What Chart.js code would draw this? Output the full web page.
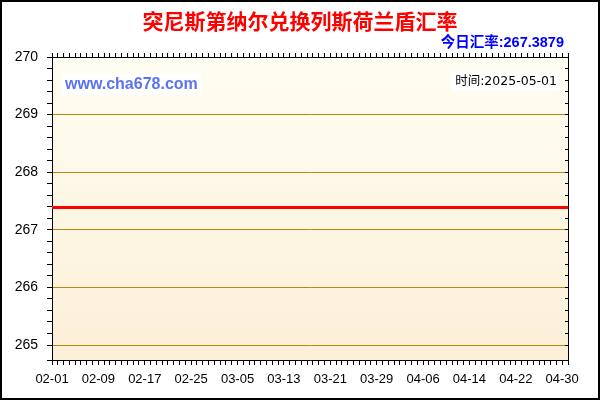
<!DOCTYPE html>
<html>
<head>
<meta charset="utf-8">
<script src="https://cdn.jsdelivr.net/npm/chart.js@4.4.1/dist/chart.umd.min.js"></script>
<style>
  html, body { margin: 0; padding: 0; background: #fff; }
  canvas { display: block; }
</style>
</head>
<body>
<canvas id="rateChart" width="600" height="400"></canvas>
<script>
// daily dates, 2025-02-01 .. 2025-05-01
const dayLabels = [
  '02-01','02-02','02-03','02-04','02-05','02-06','02-07','02-08','02-09','02-10',
  '02-11','02-12','02-13','02-14','02-15','02-16','02-17','02-18','02-19','02-20',
  '02-21','02-22','02-23','02-24','02-25','02-26','02-27','02-28',
  '03-01','03-02','03-03','03-04','03-05','03-06','03-07','03-08','03-09','03-10',
  '03-11','03-12','03-13','03-14','03-15','03-16','03-17','03-18','03-19','03-20',
  '03-21','03-22','03-23','03-24','03-25','03-26','03-27','03-28','03-29','03-30','03-31',
  '04-01','04-02','04-03','04-04','04-05','04-06','04-07','04-08','04-09','04-10',
  '04-11','04-12','04-13','04-14','04-15','04-16','04-17','04-18','04-19','04-20',
  '04-21','04-22','04-23','04-24','04-25','04-26','04-27','04-28','04-29','04-30',
  '05-01'
];

// TND -> ANG rate, flat over the whole period
const rates = [
  267.3879, 267.3879, 267.3879, 267.3879, 267.3879, 267.3879, 267.3879, 267.3879, 267.3879, 267.3879,
  267.3879, 267.3879, 267.3879, 267.3879, 267.3879, 267.3879, 267.3879, 267.3879, 267.3879, 267.3879,
  267.3879, 267.3879, 267.3879, 267.3879, 267.3879, 267.3879, 267.3879, 267.3879,
  267.3879, 267.3879, 267.3879, 267.3879, 267.3879, 267.3879, 267.3879, 267.3879, 267.3879, 267.3879,
  267.3879, 267.3879, 267.3879, 267.3879, 267.3879, 267.3879, 267.3879, 267.3879, 267.3879, 267.3879,
  267.3879, 267.3879, 267.3879, 267.3879, 267.3879, 267.3879, 267.3879, 267.3879, 267.3879, 267.3879, 267.3879,
  267.3879, 267.3879, 267.3879, 267.3879, 267.3879, 267.3879, 267.3879, 267.3879, 267.3879, 267.3879,
  267.3879, 267.3879, 267.3879, 267.3879, 267.3879, 267.3879, 267.3879, 267.3879, 267.3879, 267.3879,
  267.3879, 267.3879, 267.3879, 267.3879, 267.3879, 267.3879, 267.3879, 267.3879, 267.3879, 267.3879,
  267.3879
];

const yMin = 264.74;
const yMax = 270;
const labelEvery = 8; // a date label every 8 days

const titleText = '突尼斯第纳尔兑换列斯荷兰盾汇率';
const todayText = '今日汇率:267.3879';
const siteText = 'www.cha678.com';
const timeText = '时间:2025-05-01';

const gold = 'rgb(184,134,11)';
const fontFamily = '"Liberation Sans", Arial, "Noto Sans CJK SC", sans-serif';

const plotBackground = {
  id: 'plotBackground',
  beforeDraw(chart) {
    const { ctx, chartArea: a } = chart;
    ctx.save();
    ctx.fillStyle = '#fff';
    ctx.fillRect(0, 0, chart.width, chart.height);
    const g = ctx.createLinearGradient(0, a.top, 0, a.bottom);
    g.addColorStop(0, '#FFFEF2');
    g.addColorStop(1, '#FCEFD8');
    ctx.fillStyle = g;
    ctx.fillRect(a.left, a.top, a.right - a.left, a.bottom - a.top);
    ctx.restore();
  }
};

const notes = {
  id: 'notes',
  beforeDatasetsDraw(chart) {
    const { ctx, chartArea: a } = chart;
    ctx.save();
    ctx.textBaseline = 'middle';

    // today's rate, right above the plot
    ctx.font = 'bold 14.5px ' + fontFamily;
    ctx.fillStyle = '#0000FF';
    ctx.textAlign = 'right';
    ctx.fillText(todayText, a.right - 4, 43);

    // site watermark
    ctx.font = 'bold 16px ' + fontFamily;
    let w = ctx.measureText(siteText).width;
    ctx.fillStyle = '#fff';
    ctx.fillRect(a.left + 10, 74, w + 6, 21);
    ctx.fillStyle = '#5B73F0';
    ctx.textAlign = 'left';
    ctx.fillText(siteText, a.left + 13, 85);

    // date stamp
    ctx.font = '12.5px "DejaVu Sans", "Noto Sans CJK SC", sans-serif';
    w = ctx.measureText(timeText).width;
    ctx.fillStyle = '#fff';
    ctx.fillRect(a.right - 12 - w - 3, 72, w + 6, 19);
    ctx.fillStyle = '#000';
    ctx.textAlign = 'right';
    ctx.fillText(timeText, a.right - 11, 82);
    ctx.restore();
  },
  afterDraw(chart) {
    const ctx = chart.ctx;
    ctx.save();
    ctx.strokeStyle = '#000';
    ctx.lineWidth = 2;
    ctx.strokeRect(1, 1, chart.width - 2, chart.height - 2);
    ctx.restore();
  }
};

const isWhole = v => Math.abs(v - Math.round(v)) < 1e-6;

new Chart(document.getElementById('rateChart').getContext('2d'), {
  type: 'line',
  data: {
    labels: dayLabels,
    datasets: [{
      label: 'rate',
      data: rates,
      borderColor: '#FF0000',
      borderWidth: 3,
      pointRadius: 0,
      tension: 0,
      xAxisID: 'x',
      yAxisID: 'y'
    }]
  },
  options: {
    responsive: false,
    animation: false,
    devicePixelRatio: 1,
    layout: { padding: 0 },
    plugins: {
      legend: { display: false },
      tooltip: { enabled: false },
      title: {
        display: true,
        text: titleText,
        color: '#FF0000',
        font: { family: fontFamily, size: 21, weight: 'bold', lineHeight: 1.1 },
        padding: { top: 12, bottom: 17.4 }
      }
    },
    scales: {
      x: {
        type: 'category',
        position: 'bottom',
        offset: false,
        afterFit(scale) { scale.height = 40; },
        grid: { drawOnChartArea: false, tickColor: '#000', tickLength: 5 },
        border: { color: '#000', width: 1 },
        ticks: {
          autoSkip: false,
          maxRotation: 0,
          minRotation: 0,
          padding: 7,
          color: '#000',
          font: { family: fontFamily, size: 13 },
          callback: (val, i) => (i % labelEvery === 0 ? dayLabels[i] : '')
        }
      },
      x2: {
        type: 'category',
        position: 'top',
        offset: false,
        afterFit(scale) { scale.height = 4.5; },
        grid: { drawOnChartArea: false, tickColor: '#000', tickLength: 4 },
        border: { color: '#000', width: 1 },
        ticks: { display: false }
      },
      y: {
        type: 'linear',
        position: 'left',
        min: yMin,
        max: yMax,
        afterFit(scale) { scale.width = 52; },
        grid: {
          color: ctx => (isWhole(ctx.tick.value) ? gold : 'rgba(0,0,0,0)'),
          tickColor: '#000',
          tickLength: 5
        },
        border: { color: '#000', width: 1 },
        ticks: {
          stepSize: 0.2,
          autoSkip: false,
          padding: 9,
          color: '#000',
          font: { family: fontFamily, size: 14 },
          callback: v => (isWhole(v) ? String(Math.round(v)) : '')
        }
      },
      y2: {
        type: 'linear',
        position: 'right',
        min: yMin,
        max: yMax,
        afterFit(scale) { scale.width = 32; },
        grid: { drawOnChartArea: false, tickColor: '#000', tickLength: -3 },
        border: { color: '#000', width: 1 },
        ticks: { display: false, stepSize: 0.2 }
      }
    }
  },
  plugins: [plotBackground, notes]
});
</script>
</body>
</html>
